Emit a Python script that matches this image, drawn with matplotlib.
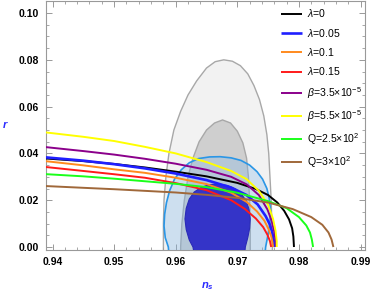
import matplotlib
matplotlib.use("Agg")
import matplotlib.pyplot as plt
from matplotlib.ticker import MultipleLocator

plt.rcParams['font.family'] = ['Liberation Sans', 'DejaVu Sans']
plt.rcParams['mathtext.fontset'] = 'custom'
plt.rcParams['mathtext.rm'] = 'Liberation Sans'
plt.rcParams['mathtext.it'] = 'Liberation Sans:italic'
plt.rcParams['mathtext.bf'] = 'Liberation Sans:bold:italic'

# ---------------- data ----------------
labels = [r'$\lambda$=0', r'$\lambda$=0.05', r'$\lambda$=0.1', r'$\lambda$=0.15',
          r'$\beta$=3.5$\times$10$^{-5}$', r'$\beta$=5.5$\times$10$^{-5}$',
          r'Q=2.5$\times$10$^{2}$', r'Q=3$\times$10$^{2}$']
colors = ['black', '#1f1fff', '#ff8a1e', '#ff1a1a', '#8b008b', '#ffff00', '#1aff1a', '#a0683a']

ns_lam0 = [0.9385, 0.9450, 0.9500, 0.9550, 0.9600, 0.9650, 0.9700, 0.9730, 0.9750, 0.9765,
           0.9776, 0.9784, 0.9789, 0.9791, 0.9792]
r_lam0 = [0.0379, 0.0367, 0.0355, 0.0340, 0.0322, 0.0302, 0.0274, 0.0248, 0.0222, 0.0190,
          0.0155, 0.0118, 0.0080, 0.0045, 0.0]

ns_lam005 = [0.9385, 0.9450, 0.9500, 0.9550, 0.9600, 0.9650, 0.9690, 0.9715, 0.9733, 0.9746,
             0.9753, 0.9757, 0.9759, 0.9760]
r_lam005 = [0.0384, 0.0369, 0.0354, 0.0336, 0.0314, 0.0286, 0.0254, 0.0222, 0.0182, 0.0132,
            0.0095, 0.0060, 0.0030, 0.0]

ns_lam01 = [0.9385, 0.9450, 0.9500, 0.9550, 0.9600, 0.9650, 0.9690, 0.9715, 0.9732, 0.9744,
            0.9751, 0.9755, 0.9757, 0.9758]
r_lam01 = [0.0368, 0.0349, 0.0332, 0.0317, 0.0296, 0.0269, 0.0232, 0.0193, 0.0152, 0.0112,
           0.0075, 0.0045, 0.0020, 0.0]

ns_lam015 = [0.9385, 0.9450, 0.9500, 0.9550, 0.9600, 0.9650, 0.9690, 0.9712, 0.9730, 0.9742,
             0.9749, 0.9753, 0.9755]
r_lam015 = [0.0343, 0.0325, 0.0311, 0.0296, 0.0273, 0.0243, 0.0200, 0.0163, 0.0122, 0.0085,
            0.0052, 0.0025, 0.0]

ns_beta35 = [0.9385, 0.9450, 0.9500, 0.9550, 0.9600, 0.9650, 0.9690, 0.9715, 0.9735, 0.9749,
             0.9756, 0.9760, 0.9762, 0.9763]
r_beta35 = [0.0428, 0.0410, 0.0395, 0.0377, 0.0356, 0.0330, 0.0300, 0.0268, 0.0222, 0.0160,
            0.0110, 0.0065, 0.0030, 0.0]

ns_beta55 = [0.9385, 0.9450, 0.9500, 0.9550, 0.9600, 0.9650, 0.9690, 0.9715, 0.9735, 0.9750,
             0.9758, 0.9762, 0.9764, 0.9764]
r_beta55 = [0.0491, 0.0471, 0.0453, 0.0428, 0.0400, 0.0363, 0.0325, 0.0290, 0.0240, 0.0180,
            0.0120, 0.0070, 0.0025, 0.0]

ns_Q25 = [0.9385, 0.9450, 0.9500, 0.9550, 0.9600, 0.9650, 0.9700, 0.9750, 0.9780, 0.9800,
          0.9812, 0.9818, 0.9821, 0.9823]
r_Q25 = [0.0312, 0.0302, 0.0292, 0.0281, 0.0270, 0.0256, 0.0232, 0.0196, 0.0166, 0.0128,
         0.0092, 0.0062, 0.0032, 0.0]

ns_Q3 = [0.9385, 0.9450, 0.9500, 0.9550, 0.9600, 0.9650, 0.9700, 0.9750, 0.9790, 0.9820,
         0.9838, 0.9848, 0.9853, 0.9856]
r_Q3 = [0.0261, 0.0253, 0.0247, 0.0240, 0.0233, 0.0223, 0.0210, 0.0190, 0.0162, 0.0128,
        0.0095, 0.0062, 0.0032, 0.0]

curves_ns = [ns_lam0, ns_lam005, ns_lam01, ns_lam015, ns_beta35, ns_beta55, ns_Q25, ns_Q3]
curves_r = [r_lam0, r_lam005, r_lam01, r_lam015, r_beta35, r_beta55, r_Q25, r_Q3]

# confidence contours (outline vertices)
gray95_ns = [0.9580, 0.9580, 0.9580, 0.9581, 0.9584, 0.9589, 0.9597, 0.9608, 0.9620, 0.9634,
             0.9650, 0.9664, 0.9678, 0.9692, 0.9705, 0.9717, 0.9727, 0.9736, 0.9743, 0.9748,
             0.9751, 0.9753, 0.9755, 0.9756, 0.9757, 0.9757]
gray95_r = [-0.003, 0.0, 0.010, 0.020, 0.030, 0.040, 0.050, 0.058, 0.065, 0.071,
            0.0765, 0.0792, 0.0800, 0.0794, 0.0775, 0.0740, 0.0690, 0.0630, 0.0560, 0.0480,
            0.0400, 0.0300, 0.0200, 0.0100, 0.0, -0.003]

gray68_ns = [0.9608, 0.9608, 0.9610, 0.9614, 0.9620, 0.9628, 0.9638, 0.9650, 0.9663, 0.9676,
             0.9689, 0.9700, 0.9709, 0.9715, 0.9718, 0.9720, 0.9721, 0.9721, 0.9721]
gray68_r = [-0.003, 0.0, 0.010, 0.020, 0.030, 0.038, 0.045, 0.050, 0.053, 0.0543,
            0.053, 0.0495, 0.0445, 0.038, 0.030, 0.020, 0.010, 0.0, -0.003]

blue95_ns = [0.9589, 0.9588, 0.9583, 0.9581, 0.9582, 0.9585, 0.9590, 0.9598, 0.9609, 0.9622,
             0.9637, 0.9655, 0.9672, 0.9690, 0.9706, 0.9720, 0.9732, 0.9741, 0.9748, 0.9752,
             0.9754, 0.9753, 0.9750, 0.9746, 0.9745]
blue95_r = [-0.003, 0.0, 0.004, 0.009, 0.014, 0.019, 0.024, 0.029, 0.033, 0.036,
            0.0378, 0.0385, 0.0386, 0.0381, 0.0370, 0.0350, 0.0322, 0.0290, 0.0250, 0.0205,
            0.0155, 0.0105, 0.0055, 0.0, -0.003]

blue68_ns = [0.9630, 0.9628, 0.9622, 0.9617, 0.9615, 0.9617, 0.9622, 0.9630, 0.9642, 0.9656,
             0.9670, 0.9684, 0.9697, 0.9707, 0.9715, 0.9719, 0.9721, 0.9720, 0.9717, 0.9713,
             0.9712]
blue68_r = [-0.003, 0.0, 0.003, 0.0075, 0.0120, 0.0165, 0.0205, 0.0235, 0.0256, 0.0267,
            0.0269, 0.0263, 0.0248, 0.0225, 0.0195, 0.0160, 0.0120, 0.0080, 0.0040, 0.0,
            -0.003]

x_ticks = [0.94, 0.95, 0.96, 0.97, 0.98, 0.99]
y_ticks = [0.00, 0.02, 0.04, 0.06, 0.08, 0.10]

# ---------------- figure ----------------
fig = plt.figure(figsize=(3.74, 2.91), dpi=100)
ax = fig.add_axes([46/374, 1 - 250/291, (365-46)/374, (250-1)/291])

ax.fill(gray95_ns, gray95_r, facecolor='#f2f2f2', edgecolor='#a8a8a8', lw=1.0, zorder=1)
ax.fill(gray68_ns, gray68_r, facecolor='#cfcfcf', edgecolor='#a8a8a8', lw=1.0, zorder=2)
ax.fill(blue95_ns, blue95_r, facecolor=(0.5, 0.72, 0.92, 0.32), edgecolor='#2a96e6', lw=1.2, zorder=3)
ax.fill(blue68_ns, blue68_r, facecolor='#3434c8', edgecolor='#2a2ab8', lw=0.8, zorder=4)

for xs, ys, c, lab in zip(curves_ns, curves_r, colors, labels):
    lw = 1.9 if c == '#1f1fff' else 1.4
    ax.plot(xs, ys, color=c, lw=lw, label=lab, zorder=5, solid_capstyle='butt',
            solid_joinstyle='round')

ax.set_xlim(0.93894, 0.99073)
ax.set_ylim(-0.00128, 0.10514)
ax.set_xticks(x_ticks)
ax.set_yticks(y_ticks)
ax.set_xticklabels(['%.2f' % v for v in x_ticks], fontweight='bold', fontsize=7.5)
ax.set_yticklabels(['%.2f' % v for v in y_ticks], fontweight='bold', fontsize=7.5)
ax.xaxis.set_minor_locator(MultipleLocator(0.002))
ax.yaxis.set_minor_locator(MultipleLocator(0.005))
ax.tick_params(which='both', direction='in', top=True, right=True, color='#999999')
ax.tick_params(which='major', length=4, width=0.7, pad=5)
ax.tick_params(which='minor', length=2, width=0.6)
for s in ax.spines.values():
    s.set_color('#999999')
    s.set_linewidth(0.8)

ax.set_ylabel(r'$\mathbf{r}$', color='#2b2bff', fontsize=8, rotation=0)
ax.yaxis.set_label_coords(-0.128, 0.48)
ax.set_xlabel(r'$\mathbf{n_s}$', color='#2b2bff', fontsize=8)
ax.xaxis.set_label_coords(0.505, -0.122)

leg = ax.legend(loc='upper left', bbox_to_anchor=(0.737, 0.975), frameon=False, fontsize=7.6,
                handlelength=2.0, handletextpad=0.45, labelspacing=0.7, borderpad=0,
                borderaxespad=0)

fig.savefig('out.png', dpi=100)
